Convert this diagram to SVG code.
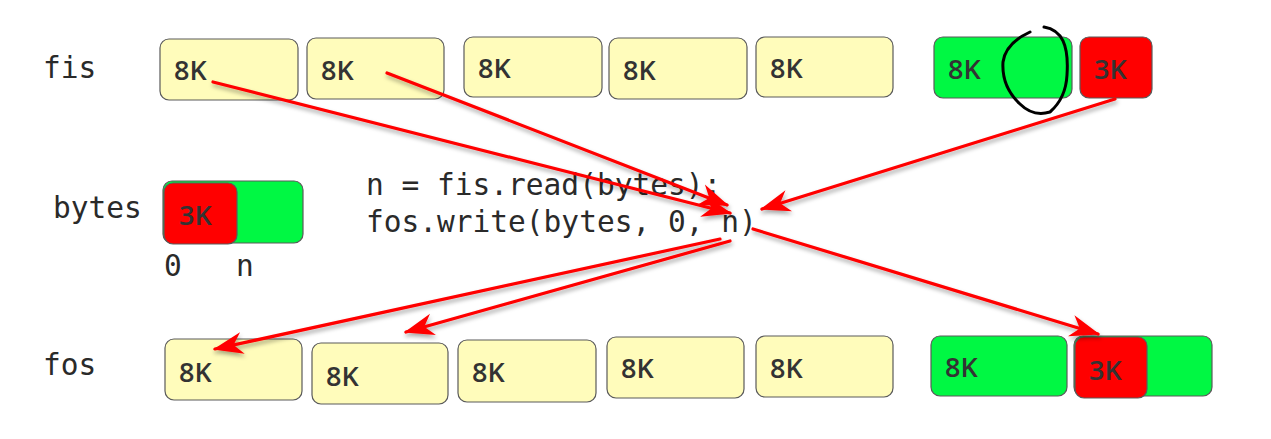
<svg xmlns="http://www.w3.org/2000/svg" width="1271" height="439" viewBox="0 0 1271 439">
<style>
.bx{stroke:#5a5a5a;stroke-width:1.2}
.y{fill:#fffcbb}
.g{fill:#00f843}
.r{fill:#ff0000}
.t{font-family:"Open Sans","Liberation Sans",sans-serif;font-weight:600;font-size:27px;fill:#333}
.m{font-family:"DejaVu Sans Mono","Liberation Mono",monospace;font-size:29.5px;fill:#2a2a2a}
.ar{fill:none;stroke:#ff0000;stroke-width:3.2;stroke-linecap:round;marker-end:url(#ah)}
</style>
<defs>
<filter id="sh" x="-10%" y="-10%" width="120%" height="130%">
<feDropShadow dx="1" dy="3" stdDeviation="2" flood-color="#000" flood-opacity="0.35"/>
</filter>
<marker id="ah" markerUnits="userSpaceOnUse" markerWidth="40" markerHeight="30" refX="0" refY="0" viewBox="-32 -15 40 30" orient="auto">
<path d="M2,0 L-28,-11 L-19,0 L-28,11 Z" fill="#ff0000"/>
</marker>
</defs>
<rect width="1271" height="439" fill="#fff"/>
<g id="labels">
<text class="m" x="43" y="78">fis</text>
<text class="m" x="53" y="218">bytes</text>
<text class="m" x="43" y="375">fos</text>
<text class="m" x="164" y="276">0</text>
<text class="m" x="236" y="276">n</text>
<text class="m" x="366" y="195">n = fis.read(bytes);</text>
<text class="m" x="366" y="232">fos.write(bytes, 0, n)</text>
</g>
<g id="fis1"><rect class="bx y" x="160" y="39" width="138" height="61" rx="9"/><text class="t" x="174" y="80">8K</text></g>
<g id="fis2"><rect class="bx y" x="307" y="38" width="137" height="61" rx="9"/><text class="t" x="321" y="80">8K</text></g>
<g id="fis3"><rect class="bx y" x="464" y="37" width="138" height="60" rx="9"/><text class="t" x="478" y="78">8K</text></g>
<g id="fis4"><rect class="bx y" x="609" y="38" width="138" height="61" rx="9"/><text class="t" x="623" y="80">8K</text></g>
<g id="fis5"><rect class="bx y" x="756" y="37" width="137" height="60" rx="9"/><text class="t" x="770" y="78">8K</text></g>
<g id="fis6"><rect class="bx g" x="934" y="37" width="138" height="61" rx="9"/><text class="t" x="948" y="79">8K</text></g>
<g id="fis7"><rect class="bx r" x="1080" y="37" width="72" height="61" rx="9"/><text class="t" x="1094" y="79">3K</text></g>
<g id="scribble"><path d="M1044,27 C1062,30 1069,45 1067,75 C1066,95 1058,105 1050,112 C1040,115 1030,114 1020,104 C1007,92 1002,78 1003,62 C1005,48 1017,38 1030,32" fill="none" stroke="#000" stroke-width="3" stroke-linecap="round"/></g>
<g id="bytes"><rect class="bx g" x="163" y="181" width="140" height="62" rx="9"/><rect class="bx r" x="164" y="183" width="73" height="61" rx="9"/><text class="t" x="179" y="225">3K</text></g>
<g id="fos1"><rect class="bx y" x="165" y="339" width="137" height="61" rx="9"/><text class="t" x="179" y="382">8K</text></g>
<g id="fos2"><rect class="bx y" x="312" y="343" width="136" height="61" rx="9"/><text class="t" x="326" y="386">8K</text></g>
<g id="fos3"><rect class="bx y" x="458" y="340" width="138" height="62" rx="9"/><text class="t" x="472" y="382">8K</text></g>
<g id="fos4"><rect class="bx y" x="607" y="337" width="137" height="61" rx="9"/><text class="t" x="621" y="378">8K</text></g>
<g id="fos5"><rect class="bx y" x="756" y="336" width="137" height="61" rx="9"/><text class="t" x="770" y="378">8K</text></g>
<g id="fos6"><rect class="bx g" x="931" y="336" width="136" height="60" rx="9"/><text class="t" x="945" y="377">8K</text></g>
<g id="fos7"><rect class="bx g" x="1074" y="336" width="138" height="60" rx="9"/><rect class="bx r" x="1075" y="337" width="72" height="61" rx="9"/><text class="t" x="1089" y="380">3K</text></g>
<g id="connectors" filter="url(#sh)">
<line class="ar" x1="213" y1="82" x2="730" y2="213"/>
<line class="ar" x1="387" y1="73" x2="727" y2="205"/>
<line class="ar" x1="1115" y1="99" x2="762" y2="209"/>
<line class="ar" x1="720" y1="239" x2="215" y2="349"/>
<line class="ar" x1="730" y1="241" x2="406" y2="332"/>
<line class="ar" x1="753" y1="229" x2="1098" y2="334"/>
</g>
</svg>
